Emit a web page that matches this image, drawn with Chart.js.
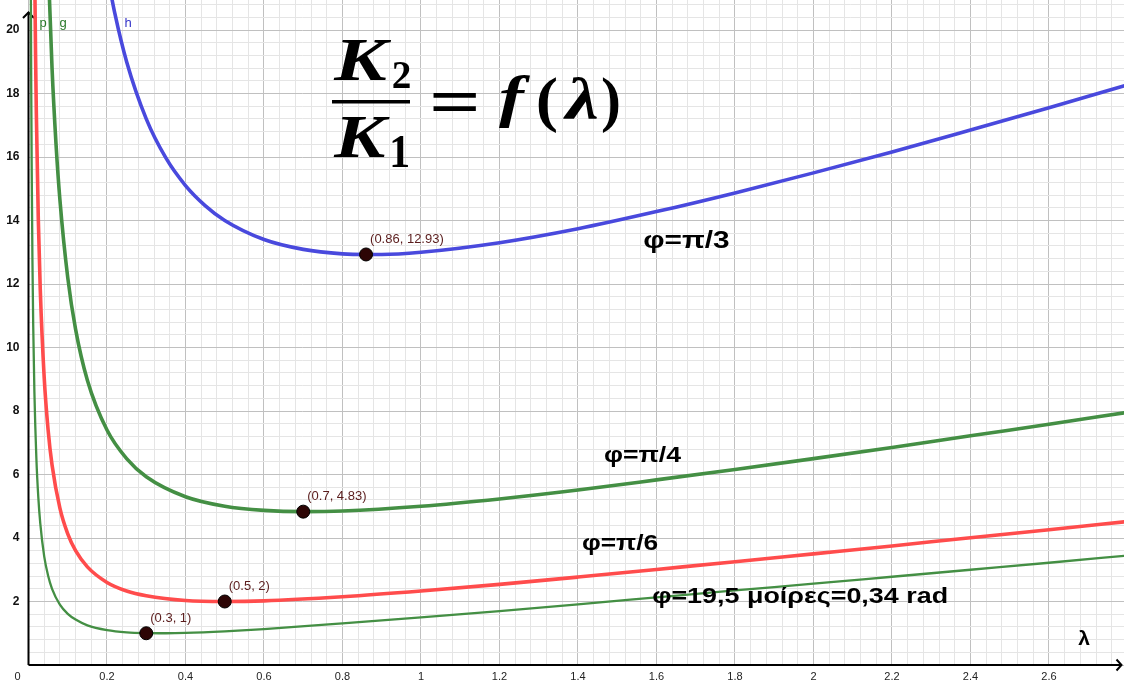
<!DOCTYPE html>
<html>
<head>
<meta charset="utf-8">
<script src="https://cdn.jsdelivr.net/npm/chart.js@4.4.1/dist/chart.umd.min.js"></script>
<style>
  html, body { margin: 0; padding: 0; background: #ffffff; overflow: hidden; }
  canvas { display: block; }
</style>
</head>
<body>
<canvas id="chart" width="1124" height="681"></canvas>
<script>
// K2/K1 as a function of λ for four angles φ

// φ = π/3  (curve h)
const lambdaH = [0.2, 0.22, 0.25, 0.3, 0.35, 0.4, 0.45, 0.5, 0.6, 0.7, 0.8, 0.86, 0.9, 1.0, 1.2, 1.4, 1.6, 1.8, 2.0, 2.2, 2.4, 2.6, 2.8];
const ratioH  = [21.8, 20.52, 19.0, 17.2, 15.97, 15.1, 14.47, 14.0, 13.4, 13.09, 12.95, 12.93, 12.93, 13.0, 13.3, 13.74, 14.28, 14.87, 15.5, 16.16, 16.85, 17.55, 18.27];

// φ = π/4  (curve g)
const lambdaG = [0.045, 0.05, 0.06, 0.07, 0.08, 0.1, 0.12, 0.15, 0.2, 0.25, 0.3, 0.4, 0.5, 0.6, 0.7, 0.8, 1.0, 1.2, 1.4, 1.6, 1.8, 2.0, 2.2, 2.4, 2.6, 2.8];
const ratioG  = [24.31, 22.1, 18.79, 16.43, 14.66, 12.2, 10.57, 8.97, 7.4, 6.5, 5.93, 5.3, 5.0, 4.87, 4.83, 4.85, 5.0, 5.23, 5.51, 5.83, 6.16, 6.5, 6.85, 7.22, 7.58, 7.96];

// φ = π/6
const lambdaR = [0.015, 0.018, 0.02, 0.025, 0.03, 0.04, 0.05, 0.06, 0.08, 0.1, 0.12, 0.15, 0.2, 0.25, 0.3, 0.4, 0.5, 0.6, 0.8, 1.0, 1.2, 1.4, 1.6, 1.8, 2.0, 2.2, 2.4, 2.6, 2.8];
const ratioR  = [22.91, 19.21, 17.36, 14.03, 11.82, 9.05, 7.4, 6.3, 4.94, 4.13, 3.6, 3.09, 2.6, 2.33, 2.18, 2.03, 2.0, 2.02, 2.15, 2.33, 2.54, 2.77, 3.01, 3.25, 3.5, 3.75, 4.01, 4.26, 4.52];

// φ = 19,5° = 0,34 rad  (curve p)
const lambdaP = [0.006, 0.007, 0.008, 0.01, 0.012, 0.015, 0.02, 0.025, 0.03, 0.04, 0.05, 0.06, 0.08, 0.1, 0.12, 0.15, 0.2, 0.25, 0.3, 0.35, 0.4, 0.5, 0.6, 0.8, 1.0, 1.2, 1.4, 1.6, 1.8, 2.0, 2.2, 2.4, 2.6, 2.8];
const ratioP  = [21.12, 18.14, 15.9, 12.77, 10.69, 8.61, 6.53, 5.28, 4.46, 3.42, 2.81, 2.4, 1.9, 1.61, 1.43, 1.25, 1.1, 1.03, 1.005, 1.0, 1.01, 1.06, 1.13, 1.31, 1.5, 1.7, 1.91, 2.13, 2.35, 2.56, 2.78, 3.0, 3.22, 3.45];

// marked minima
const minLambda = [0.3, 0.5, 0.7, 0.86];
const minRatio  = [1, 2, 4.83, 12.93];

// curve captions
const captions = ['φ=π/3', 'φ=π/4', 'φ=π/6', 'φ=19,5 μοίρες=0,34 rad'];
const curveNames = ['p', 'g', 'h'];

// axis tick labels (major grid) and minor grid steps
const xTickLabels = ['0.2', '0.4', '0.6', '0.8', '1', '1.2', '1.4', '1.6', '1.8', '2', '2.2', '2.4', '2.6'];
const yTickLabels = ['2', '4', '6', '8', '10', '12', '14', '16', '18', '20'];
const xMinorCount = 70;  // 0 .. 2.76 by 0.04
const yMinorCount = 53;  // 0 .. 20.8 by 0.4

const BLUE = 'rgb(73,73,221)';
const GREEN = 'rgb(68,143,68)';
const RED = 'rgb(255,76,76)';
const NAME_GREEN = 'rgb(40,120,40)';

function pairs(xs, ys) { return xs.map((x, i) => ({ x: x, y: ys[i] })); }
function isMajor(v, step) { return Math.abs(v / step - Math.round(v / step)) < 1e-6; }

function lineSet(xs, ys, color, width) {
  return {
    data: pairs(xs, ys), borderColor: color, borderWidth: width,
    showLine: true, pointRadius: 0, pointHoverRadius: 0,
    cubicInterpolationMode: 'monotone', fill: false, order: 2
  };
}

// text fitted into an ink box (left, top, right, bottom)
function fitText(ctx, text, font, l, t, r, b) {
  ctx.save();
  ctx.font = font;
  ctx.textAlign = 'left';
  ctx.textBaseline = 'alphabetic';
  const m = ctx.measureText(text);
  const iw = m.actualBoundingBoxLeft + m.actualBoundingBoxRight;
  const ih = m.actualBoundingBoxAscent + m.actualBoundingBoxDescent;
  const sx = (r - l) / iw, sy = (b - t) / ih;
  ctx.translate(l, t);
  ctx.scale(sx, sy);
  ctx.fillText(text, m.actualBoundingBoxLeft, m.actualBoundingBoxAscent);
  ctx.restore();
}

// text stretched to a width, vertically centred
function widthText(ctx, text, font, l, cy, w, color) {
  ctx.save();
  ctx.font = font;
  ctx.fillStyle = color;
  ctx.textAlign = 'left';
  ctx.textBaseline = 'middle';
  const m = ctx.measureText(text);
  const iw = m.actualBoundingBoxLeft + m.actualBoundingBoxRight;
  ctx.translate(l, cy);
  ctx.scale(w / iw, 1);
  ctx.fillText(text, m.actualBoundingBoxLeft, 0);
  ctx.restore();
}

const decorations = {
  id: 'decorations',
  beforeDatasetsDraw(chart) {
    const { ctx } = chart;
    const xs = chart.scales.x, ys = chart.scales.y;
    const x0 = xs.getPixelForValue(0), y0 = ys.getPixelForValue(0);
    ctx.save();
    ctx.strokeStyle = '#000';
    ctx.lineWidth = 2;
    ctx.lineCap = 'butt';
    ctx.beginPath();
    ctx.moveTo(x0, y0); ctx.lineTo(x0, 12);
    ctx.moveTo(x0, y0); ctx.lineTo(chart.width - 2, y0);
    ctx.stroke();
    ctx.beginPath();
    ctx.moveTo(x0 - 5.5, 18); ctx.lineTo(x0, 12.5); ctx.lineTo(x0 + 5.5, 18);
    const xe = chart.width - 2;
    ctx.moveTo(xe - 5.5, y0 - 5.5); ctx.lineTo(xe - 0.5, y0); ctx.lineTo(xe - 5.5, y0 + 5.5);
    ctx.stroke();
    // origin label
    ctx.fillStyle = '#222';
    ctx.font = '11px "Liberation Sans", Arial, sans-serif';
    ctx.textAlign = 'center';
    ctx.textBaseline = 'middle';
    ctx.fillText('0', x0 - 11, y0 + 12);
    ctx.restore();
  },
  afterDatasetsDraw(chart) {
    const { ctx } = chart;
    const xs = chart.scales.x, ys = chart.scales.y;
    ctx.save();

    // coordinates of each minimum
    const meta = chart.getDatasetMeta(0);
    ctx.fillStyle = 'rgb(90,28,28)';
    ctx.font = '13px "Liberation Sans", Arial, sans-serif';
    ctx.textAlign = 'left';
    ctx.textBaseline = 'middle';
    meta.data.forEach((pt, i) => {
      ctx.fillText('(' + minLambda[i] + ', ' + minRatio[i] + ')', pt.x + 4, pt.y - 15);
    });

    // curve captions
    const capFont = s => 'bold ' + s + 'px "Liberation Sans", Arial, sans-serif';
    const capAt = [[1.566, 13.35, 86, 24], [1.466, 6.57, 78, 22], [1.41, 3.81, 76, 22], [1.589, 2.14, 295, 22.5]];
    captions.forEach((c, i) => {
      const [lx, ly, w, s] = capAt[i];
      widthText(ctx, c, capFont(s), xs.getPixelForValue(lx), ys.getPixelForValue(ly), w, '#000');
    });

    // curve names along the top
    ctx.font = '13px "Liberation Sans", Arial, sans-serif';
    ctx.textAlign = 'center';
    ctx.textBaseline = 'middle';
    const nameAt = [[0.037, NAME_GREEN], [0.088, NAME_GREEN], [0.254, 'rgb(50,50,200)']];
    curveNames.forEach((n, i) => {
      ctx.fillStyle = nameAt[i][1];
      ctx.fillText(n, xs.getPixelForValue(nameAt[i][0]), 23);
    });

    // axis name
    ctx.fillStyle = '#000';
    ctx.font = 'bold 21px "Liberation Sans", Arial, sans-serif';
    ctx.fillText('λ', 1084, 639);

    // K2/K1 = f(λ)
    ctx.fillStyle = '#000';
    const bi = 'italic bold 60px "Liberation Serif", serif';
    const bu = 'bold 60px "Liberation Serif", serif';
    fitText(ctx, 'K', bi, 333, 40, 392, 80);
    fitText(ctx, '2', bu, 393, 62, 410, 88);
    ctx.fillRect(332, 100, 78, 3.5);
    fitText(ctx, 'K', bi, 333, 117, 390.5, 157);
    fitText(ctx, '1', bu, 392, 137, 408, 167);
    fitText(ctx, '=', bu, 432, 94, 476, 112);
    fitText(ctx, 'f', bi, 499, 76, 530, 129);
    fitText(ctx, '(', bu, 538, 77, 557, 133);
    fitText(ctx, 'λ', bi, 562, 77, 598, 119);
    fitText(ctx, ')', bu, 602, 77, 619, 133);
    ctx.restore();
  }
};

const tickFont = { family: '"Liberation Sans", Arial, sans-serif', size: 11 };

new Chart(document.getElementById('chart'), {
  type: 'scatter',
  data: {
    datasets: [
      {
        data: pairs(minLambda, minRatio),
        pointRadius: 6.5, pointHoverRadius: 6.5,
        pointBackgroundColor: 'rgb(45,5,5)', pointBorderColor: '#000', pointBorderWidth: 1,
        showLine: false, order: 0
      },
      lineSet(lambdaH, ratioH, BLUE, 3.6),
      lineSet(lambdaG, ratioG, GREEN, 3.6),
      lineSet(lambdaR, ratioR, RED, 3.6),
      lineSet(lambdaP, ratioP, GREEN, 2.3)
    ]
  },
  options: {
    responsive: false,
    animation: false,
    devicePixelRatio: 1,
    events: [],
    layout: { padding: 0, autoPadding: false },
    plugins: { legend: { display: false }, tooltip: { enabled: false } },
    scales: {
      x: {
        type: 'linear', position: 'bottom',
        min: 0, max: 2.7911,
        afterBuildTicks(scale) {
          scale.ticks = Array.from({ length: xMinorCount }, (_, i) => ({ value: Math.round(i * 4) / 100 }));
        },
        afterFit(scale) {
          scale.height = 16;
          scale.paddingLeft = scale.paddingRight = scale.paddingTop = scale.paddingBottom = 0;
        },
        border: { display: false },
        grid: {
          drawTicks: false,
          lineWidth: 1,
          color: c => (c.tick && isMajor(c.tick.value, 0.2)) ? 'rgb(192,192,192)' : 'rgb(229,229,229)'
        },
        ticks: {
          autoSkip: false, maxRotation: 0, minRotation: 0, padding: 5,
          color: '#222', font: tickFont,
          callback(v) {
            const s = String(Math.round(v * 10) / 10);
            return (v > 0 && isMajor(v, 0.2) && xTickLabels.includes(s)) ? s : '';
          }
        }
      },
      y: {
        type: 'linear', position: 'left',
        min: 0, max: 20.945,
        afterBuildTicks(scale) {
          scale.ticks = Array.from({ length: yMinorCount }, (_, i) => ({ value: Math.round(i * 4) / 10 }));
        },
        afterFit(scale) {
          scale.width = 28.5;
          scale.paddingLeft = scale.paddingRight = scale.paddingTop = scale.paddingBottom = 0;
        },
        border: { display: false },
        grid: {
          drawTicks: false,
          lineWidth: 1,
          color: c => (c.tick && isMajor(c.tick.value, 2)) ? 'rgb(192,192,192)' : 'rgb(229,229,229)'
        },
        ticks: {
          autoSkip: false, padding: 9,
          color: '#111', font: { family: tickFont.family, size: 12, weight: 'bold' },
          callback(v) {
            const s = String(Math.round(v));
            return (v > 0 && isMajor(v, 2) && yTickLabels.includes(s)) ? s : '';
          }
        }
      }
    }
  },
  plugins: [decorations]
});
</script>
</body>
</html>
